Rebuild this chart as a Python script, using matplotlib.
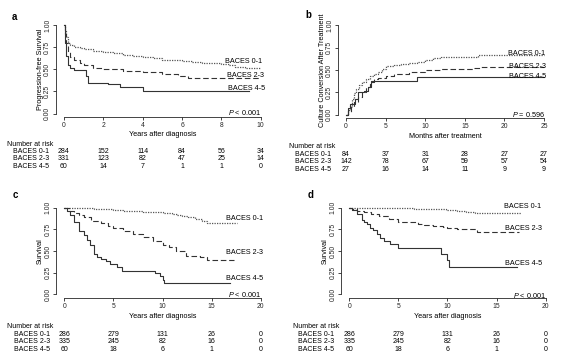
import numpy as np
import matplotlib
matplotlib.use("Agg")
import matplotlib.pyplot as plt
from matplotlib.transforms import blended_transform_factory

plt.rcParams['font.family'] = ['Liberation Sans', 'DejaVu Sans']
plt.rcParams['mathtext.fontset'] = 'custom'
plt.rcParams['mathtext.rm'] = 'Liberation Sans'
plt.rcParams['mathtext.it'] = 'Liberation Sans:italic'

# ---------------------------------------------------------------------------
# data
# ---------------------------------------------------------------------------
groups = ['BACES 0-1', 'BACES 2-3', 'BACES 4-5']

# a: progression-free survival
a01_t = [0, 0.05, 0.1, 0.2, 0.3, 0.5, 0.8, 1.0, 1.5, 2.0, 2.5, 3.0, 3.5, 4.0,
         4.5, 5.0, 5.5, 6.0, 6.5, 7.0, 7.5, 8.0, 8.4, 8.7, 9.2, 10.0]
a01_s = [1.0, 0.93, 0.86, 0.80, 0.77, 0.75, 0.74, 0.73, 0.71, 0.70, 0.68, 0.66,
         0.65, 0.64, 0.63, 0.61, 0.60, 0.59, 0.58, 0.575, 0.57, 0.56, 0.55,
         0.53, 0.52, 0.51]
a23_t = [0, 0.05, 0.1, 0.2, 0.3, 0.5, 0.8, 1.0, 1.5, 2.0, 3.0, 4.0, 5.0, 5.8,
         6.3, 10.0]
a23_s = [1.0, 0.90, 0.80, 0.70, 0.64, 0.60, 0.57, 0.55, 0.52, 0.50, 0.48, 0.47,
         0.45, 0.43, 0.40, 0.40]
a45_t = [0, 0.05, 0.1, 0.2, 0.3, 0.5, 1.1, 1.2, 2.25, 2.85, 4.0, 9.4]
a45_s = [1.0, 0.80, 0.65, 0.55, 0.51, 0.49, 0.42, 0.35, 0.33, 0.30, 0.25, 0.25]
a_ticks = [0, 2, 4, 6, 8, 10]
a_risk = [[284, 152, 114, 84, 56, 34],
          [331, 123, 82, 47, 25, 14],
          [60, 14, 7, 1, 1, 0]]

# b: culture conversion
b01_t = [0, 0.3, 0.5, 0.8, 1.0, 1.3, 1.6, 2.0, 2.5, 3.0, 3.5, 4.0, 4.5, 5.0,
         6.0, 7.0, 8.0, 9.0, 10.0, 11.0, 12.0, 16.7, 25.0]
b01_s = [0, 0.05, 0.10, 0.17, 0.24, 0.29, 0.33, 0.37, 0.40, 0.43, 0.45, 0.48,
         0.51, 0.54, 0.56, 0.57, 0.58, 0.59, 0.61, 0.63, 0.65, 0.665, 0.665]
b23_t = [0, 0.3, 0.6, 1.0, 1.5, 2.0, 2.5, 3.0, 3.5, 4.0, 5.0, 6.0, 7.0, 8.0,
         10.0, 12.0, 16.0, 17.0, 25.0]
b23_s = [0, 0.03, 0.08, 0.14, 0.20, 0.25, 0.31, 0.37, 0.40, 0.41, 0.43, 0.45,
         0.46, 0.48, 0.50, 0.51, 0.52, 0.53, 0.53]
b45_t = [0, 0.3, 0.5, 1.1, 1.5, 2.3, 2.8, 3.2, 9.0, 25.0]
b45_s = [0, 0.07, 0.12, 0.17, 0.25, 0.26, 0.31, 0.38, 0.42, 0.42]
b_ticks = [0, 5, 10, 15, 20, 25]
b_risk = [[84, 37, 31, 28, 27, 27],
          [142, 78, 67, 59, 57, 54],
          [27, 16, 14, 11, 9, 9]]

# c: survival
c01_t = [0, 1, 2, 3, 4, 5, 6, 7, 8, 9, 10, 11, 11.5, 12, 12.6, 13.3, 14, 14.5,
         17.6]
c01_s = [1.0, 0.998, 0.995, 0.99, 0.98, 0.972, 0.965, 0.96, 0.955, 0.945, 0.935,
         0.925, 0.91, 0.90, 0.89, 0.87, 0.85, 0.825, 0.825]
c23_t = [0, 0.5, 1.0, 1.5, 2.0, 2.7, 3.7, 4.5, 5.0, 6.0, 7.0, 8.0, 9.0, 10.0,
         10.7, 11.4, 12.4, 13.8, 14.5, 17.3]
c23_s = [1.0, 0.96, 0.94, 0.92, 0.89, 0.85, 0.82, 0.79, 0.77, 0.73, 0.70, 0.66,
         0.62, 0.57, 0.55, 0.50, 0.44, 0.43, 0.40, 0.40]
c45_t = [0, 0.3, 0.6, 1.0, 1.5, 2.0, 2.3, 2.6, 3.0, 3.3, 3.7, 4.2, 4.7, 5.4,
         5.9, 9.2, 9.7, 10.0, 10.2, 16.9]
c45_s = [1.0, 0.96, 0.91, 0.84, 0.73, 0.68, 0.63, 0.57, 0.46, 0.43, 0.41, 0.38,
         0.35, 0.31, 0.27, 0.25, 0.21, 0.17, 0.13, 0.13]

# d: survival
d01_t = [0, 5, 6.6, 8, 9.9, 11, 11.9, 12.8, 17.5]
d01_s = [1.0, 0.995, 0.99, 0.98, 0.97, 0.96, 0.95, 0.935, 0.935]
d23_t = [0, 0.3, 0.8, 1.5, 2.2, 3.0, 4.0, 5.0, 6.0, 7.0, 7.6, 8.5, 9.5, 10.0,
         11.0, 13.0, 17.3]
d23_s = [1.0, 0.98, 0.96, 0.95, 0.93, 0.90, 0.87, 0.84, 0.83, 0.81, 0.80, 0.79,
         0.78, 0.77, 0.75, 0.72, 0.72]
d45_t = [0, 0.25, 0.8, 1.26, 1.5, 1.77, 2.1, 2.45, 2.8, 3.1, 3.5, 4.15, 5.0,
         9.3, 10.0, 10.2, 17.1]
d45_s = [1.0, 0.97, 0.93, 0.86, 0.83, 0.81, 0.77, 0.74, 0.70, 0.65, 0.62, 0.58,
         0.54, 0.47, 0.40, 0.32, 0.32]

cd_ticks = [0, 5, 10, 15, 20]
cd_risk = [[286, 279, 131, 26, 0],
           [335, 245, 82, 16, 0],
           [60, 18, 6, 1, 0]]

yticks = [0.0, 0.25, 0.5, 0.75, 1.0]
ytick_labels = ['0.00', '0.25', '0.50', '0.75', '1.00']

# ---------------------------------------------------------------------------
# styling
# ---------------------------------------------------------------------------
W, H = 567, 363
fs = 5.2         # labels
fs_tab = 5.0     # risk table
fs_tick = 4.9    # tick labels
lc = '#262626'
lw = 0.8
styles = [dict(linestyle=(0, (1, 1)), color='#555555', linewidth=0.9),
          dict(linestyle=(0, (5, 2.5)), color='#333333', linewidth=lw),
          dict(linestyle='-', color='#333333', linewidth=lw)]

fig = plt.figure(figsize=(W / 100, H / 100), dpi=100)


def px(x, y):
    return x / W, 1 - y / H


def make_axes(x0, x1, ytop, ybot):
    return fig.add_axes([x0 / W, 1 - ybot / H, (x1 - x0) / W, (ybot - ytop) / H])


def setup(ax, xlim, ylim, xticks, xlabel, ylabel, xlab_y, ylab_x, ylab_y):
    ax.set_xlim(*xlim)
    ax.set_ylim(*ylim)
    for s in ['top', 'right']:
        ax.spines[s].set_visible(False)
    ax.spines['left'].set_bounds(0, 1)
    ax.spines['bottom'].set_bounds(xticks[0], xticks[-1])
    for s in ['left', 'bottom']:
        ax.spines[s].set_linewidth(0.6)
        ax.spines[s].set_color(lc)
    ax.set_xticks(xticks)
    ax.set_yticks(yticks)
    ax.set_yticklabels(ytick_labels)
    ax.tick_params(direction='out', length=2.2, width=0.6, colors=lc,
                   labelsize=fs_tick, pad=1.5)
    for lbl in ax.get_yticklabels():
        lbl.set_rotation(90)
        lbl.set_va('center')
    ax.patch.set_alpha(0)
    # axis labels at measured pixel positions
    pos = ax.get_position()
    fx, fy = px(0, xlab_y)
    ax.set_xlabel(xlabel, fontsize=fs)
    ax.xaxis.set_label_coords(0.5, (fy - pos.y0) / pos.height)
    ax.xaxis.label.set_va('center')
    gx, gy = px(ylab_x, ylab_y)
    ax.set_ylabel(ylabel, fontsize=fs)
    ax.yaxis.set_label_coords((gx - pos.x0) / pos.width, (gy - pos.y0) / pos.height)
    ax.yaxis.label.set_va('center')


def risk_table(ax, ticks, risk, head_xy, row_x, row_y):
    fig.text(*px(*head_xy), 'Number at risk', fontsize=fs_tab, ha='left', va='center')
    tr = blended_transform_factory(ax.transData, fig.transFigure)
    for g, counts, ry in zip(groups, risk, row_y):
        fig.text(*px(row_x, ry), g, fontsize=fs_tab, ha='left', va='center')
        for t, n in zip(ticks, counts):
            ax.text(t, 1 - ry / H, str(n), transform=tr, fontsize=fs_tab,
                    ha='center', va='center')


def curves(ax, series, label_pos):
    for (t, s), st, g, (lx, ly) in zip(series, styles, groups, label_pos):
        ax.step(t, s, where='post', **st)
        ax.text(lx, ly, g, fontsize=fs, ha='left', va='center')


# ---------------------------------------------------------------------------
# panel a
# ---------------------------------------------------------------------------
ax_a = make_axes(56.1, 268.6, 21.4, 117.2)
curves(ax_a, [(a01_t, a01_s), (a23_t, a23_s), (a45_t, a45_s)],
       [(8.2, 0.59), (8.3, 0.43), (8.35, 0.285)])
setup(ax_a, (-0.4, 10.4), (-0.04, 1.04), a_ticks, 'Years after diagnosis',
      'Progression-free Survival', 134, 40, 69)
ax_a.text(10.0, 0.01, '$P$ < 0.001', fontsize=fs, ha='right', va='center')
risk_table(ax_a, a_ticks, a_risk, (7, 144.3), 13.3, [151.7, 159, 166.7])
fig.text(*px(12, 16.5), 'a', fontsize=7, fontweight='bold', ha='left', va='center')

# ---------------------------------------------------------------------------
# panel b
# ---------------------------------------------------------------------------
ax_b = make_axes(338.1, 551.9, 21.9, 118.1)
curves(ax_b, [(b01_t, b01_s), (b23_t, b23_s), (b45_t, b45_s)],
       [(20.45, 0.685), (20.55, 0.54), (20.55, 0.425)])
setup(ax_b, (-1, 26), (-0.04, 1.04), b_ticks, 'Months after treatment',
      'Culture Conversion After Treatment', 136.7, 322.7, 70)
ax_b.text(25.1, 0.0, '$P$ = 0.596', fontsize=fs, ha='right', va='center')
risk_table(ax_b, b_ticks, b_risk, (289.3, 146), 295, [154.3, 161.7, 169.3])
fig.text(*px(305.5, 15.5), 'b', fontsize=7, fontweight='bold', ha='left', va='center')

# ---------------------------------------------------------------------------
# panel c
# ---------------------------------------------------------------------------
ax_c = make_axes(56.4, 268.6, 204.2, 297.8)
curves(ax_c, [(c01_t, c01_s), (c23_t, c23_s), (c45_t, c45_s)],
       [(16.47, 0.88), (16.47, 0.478), (16.47, 0.183)])
setup(ax_c, (-0.8, 20.8), (-0.04, 1.04), cd_ticks, 'Years after diagnosis',
      'Survival', 316.7, 40, 251)
ax_c.text(20.0, 0.0, '$P$ < 0.001', fontsize=fs, ha='right', va='center')
risk_table(ax_c, cd_ticks, cd_risk, (6.7, 326), 14.3, [334.3, 341.7, 349.3])
fig.text(*px(13, 195), 'c', fontsize=7, fontweight='bold', ha='left', va='center')

# ---------------------------------------------------------------------------
# panel d
# ---------------------------------------------------------------------------
ax_d = make_axes(341.4, 553.5, 204.2, 297.8)
curves(ax_d, [(d01_t, d01_s), (d23_t, d23_s), (d45_t, d45_s)],
       [(15.75, 1.01), (15.9, 0.76), (15.9, 0.357)])
setup(ax_d, (-0.8, 20.8), (-0.04, 1.04), cd_ticks, 'Years after diagnosis',
      'Survival', 316.7, 325, 251)
ax_d.text(20.0, -0.01, '$P$ < 0.001', fontsize=fs, ha='right', va='center')
risk_table(ax_d, cd_ticks, cd_risk, (293.3, 326), 298.3, [334.3, 341.7, 349.3])
fig.text(*px(307.5, 195), 'd', fontsize=7, fontweight='bold', ha='left', va='center')

fig.savefig('out.png', dpi=100)
